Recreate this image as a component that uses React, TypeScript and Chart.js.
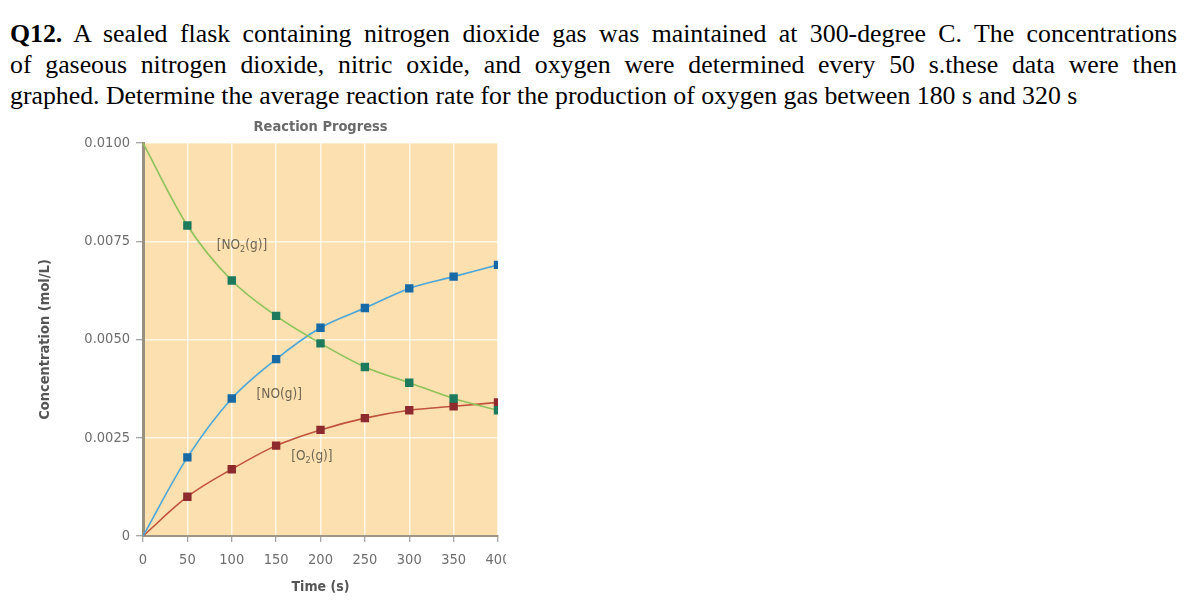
import React, { useEffect, useRef } from "react";
import { Chart, registerables } from "chart.js";

Chart.register(...registerables);

const timeSeconds = [0, 50, 100, 150, 200, 250, 300, 350, 400];
const no2Values = [0.01, 0.0079, 0.0065, 0.0056, 0.0049, 0.0043, 0.0039, 0.0035, 0.0032];
const noValues = [0, 0.002, 0.0035, 0.0045, 0.0053, 0.0058, 0.0063, 0.0066, 0.0069];
const o2Values = [0, 0.001, 0.0017, 0.0023, 0.0027, 0.003, 0.0032, 0.0033, 0.0034];

const yTickValues = [0, 0.0025, 0.005, 0.0075, 0.01];
const yTickLabels = ["0", "0.0025", "0.0050", "0.0075", "0.0100"];
const xTickValues = [0, 50, 100, 150, 200, 250, 300, 350, 400];

// series annotation labels: [before subscript, subscript, after], anchored at data (time, conc)
const seriesLabelParts = [
  ["[NO", "2", "(g)]"],
  ["[NO(g)]", "", ""],
  ["[O", "2", "(g)]"],
];
const seriesLabelTimes = [83, 128, 167];
const seriesLabelConc = [0.0074, 0.0036, 0.00203];

const chartTitle = "Reaction Progress";
const xTitle = "Time (s)";
const yTitle = "Concentration (mol/L)";

const FONT = "'DejaVu Sans Condensed', 'Liberation Sans Narrow', 'Roboto', sans-serif";

const plotBgPlugin = {
  id: "plotBg",
  beforeDraw(chart: any) {
    const { ctx, chartArea } = chart;
    ctx.save();
    ctx.fillStyle = "#FCE0B0";
    ctx.fillRect(chartArea.left, chartArea.top, chartArea.right - chartArea.left, chartArea.bottom - chartArea.top);
    ctx.restore();
  },
};

const topTitlePlugin = {
  id: "topTitle",
  afterDraw(chart: any) {
    const { ctx, chartArea } = chart;
    ctx.save();
    ctx.fillStyle = "#6a6a6a";
    ctx.font = `bold 14.5px ${FONT}`;
    ctx.textAlign = "center";
    ctx.textBaseline = "middle";
    ctx.fillText(chartTitle, (chartArea.left + chartArea.right) / 2, chartArea.top - 16);
    ctx.restore();
  },
};

const seriesLabelPlugin = {
  id: "seriesLabels",
  afterDatasetsDraw(chart: any) {
    const { ctx, scales } = chart;
    ctx.save();
    ctx.fillStyle = "#6f6552";
    ctx.textBaseline = "middle";
    ctx.textAlign = "left";
    seriesLabelParts.forEach((parts, i) => {
      let x = scales.x.getPixelForValue(seriesLabelTimes[i]);
      const y = scales.y.getPixelForValue(seriesLabelConc[i]);
      ctx.font = `13.5px ${FONT}`;
      ctx.fillText(parts[0], x, y);
      x += ctx.measureText(parts[0]).width;
      if (parts[1]) {
        ctx.font = `9px ${FONT}`;
        ctx.fillText(parts[1], x, y + 4);
        x += ctx.measureText(parts[1]).width;
      }
      if (parts[2]) {
        ctx.font = `13.5px ${FONT}`;
        ctx.fillText(parts[2], x, y);
      }
    });
    ctx.restore();
  },
};

function ChartView() {
  const ref = useRef<HTMLCanvasElement | null>(null);
  useEffect(() => {
    if (!ref.current) return;
    const mk = (vals: number[]) => timeSeconds.map((t, i) => ({ x: t, y: vals[i] }));
    const radii = timeSeconds.map((_, i) => (i === 0 ? 0 : 4.8));
    const chart = new Chart(ref.current, {
      type: "line",
      data: {
        datasets: [
          {
            label: "NO2",
            data: mk(no2Values),
            borderColor: "#8fc25a",
            backgroundColor: "#1d7a5c",
            pointBorderColor: "#1d7a5c",
            pointBackgroundColor: "#1d7a5c",
            borderWidth: 1.6,
            pointStyle: "rect",
            pointRadius: radii,
            cubicInterpolationMode: "monotone",
          },
          {
            label: "NO",
            data: mk(noValues),
            borderColor: "#4da6d8",
            backgroundColor: "#176aa6",
            pointBorderColor: "#176aa6",
            pointBackgroundColor: "#176aa6",
            borderWidth: 1.6,
            pointStyle: "rect",
            pointRadius: radii,
            cubicInterpolationMode: "monotone",
          },
          {
            label: "O2",
            data: mk(o2Values),
            borderColor: "#c0533c",
            backgroundColor: "#8e2b2e",
            pointBorderColor: "#8e2b2e",
            pointBackgroundColor: "#8e2b2e",
            borderWidth: 1.6,
            pointStyle: "rect",
            pointRadius: radii,
            cubicInterpolationMode: "monotone",
          },
        ],
      },
      options: {
        responsive: false,
        animation: false,
        layout: { padding: { left: 0, right: 32, top: 33, bottom: 0 } },
        plugins: {
          legend: { display: false },
          tooltip: { enabled: false },
          title: { display: false },
        },
        scales: {
          x: {
            type: "linear",
            min: 0,
            max: 400,
            afterBuildTicks: (scale: any) => {
              scale.ticks = xTickValues.map((v) => ({ value: v }));
            },
            afterFit: (scale: any) => {
              scale.height = 67;
            },
            ticks: {
              color: "#6e6e6e",
              font: { family: FONT, size: 14.5 },
              padding: 10,
              maxRotation: 0,
              autoSkip: false,
              callback: (v: any) => String(v),
            },
            grid: {
              color: "rgba(255,255,255,0.7)",
              lineWidth: 1.5,
              tickColor: "#8a8a8a",
              tickLength: 6,
              tickWidth: 1,
            },
            border: { display: true, color: "#a09686", width: 2 },
            title: {
              display: true,
              text: xTitle,
              color: "#555",
              font: { family: FONT, size: 14, weight: "bold" },
              padding: { top: 0, bottom: 7 },
            },
          },
          y: {
            type: "linear",
            min: 0,
            max: 0.01,
            afterBuildTicks: (scale: any) => {
              scale.ticks = yTickValues.map((v) => ({ value: v }));
            },
            afterFit: (scale: any) => {
              scale.width = 143;
            },
            ticks: {
              color: "#6e6e6e",
              font: { family: FONT, size: 14.5 },
              padding: 6,
              autoSkip: false,
              callback: (v: any) => {
                const i = yTickValues.findIndex((t) => Math.abs(t - v) < 1e-9);
                return i >= 0 ? yTickLabels[i] : "";
              },
            },
            grid: {
              color: "rgba(255,255,255,0.7)",
              lineWidth: 1.5,
              tickColor: "#8a8a8a",
              tickLength: 7,
              tickWidth: 1,
            },
            border: { display: true, color: "#9a9080", width: 3 },
            title: {
              display: true,
              text: yTitle,
              color: "#555",
              font: { family: FONT, size: 14.5, weight: "bold" },
              padding: { top: 37, bottom: 0 },
            },
          },
        },
      },
      plugins: [plotBgPlugin, seriesLabelPlugin, topTitlePlugin],
    } as any);
    return () => chart.destroy();
  }, []);
  return <canvas ref={ref} width={530} height={493} style={{ display: "block" }} />;
}

export default function App() {
  const lineBase: React.CSSProperties = {
    fontFamily: "'Liberation Serif', 'Times New Roman', serif",
    fontSize: 25.8,
    lineHeight: "31px",
    color: "#000",
    whiteSpace: "nowrap",
    width: 1167,
  };
  const justified: React.CSSProperties = { ...lineBase, whiteSpace: "normal", textAlign: "justify", textAlignLast: "justify" as any };
  return (
    <div style={{ position: "fixed", left: 0, top: 0, width: 1200, height: 603, background: "#fff", overflow: "hidden" }}>
      <div style={{ position: "absolute", left: 10, top: 18 }}>
        <div style={justified}>
          <b>Q12.</b> A sealed flask containing nitrogen dioxide gas was maintained at 300-degree C. The concentrations
        </div>
        <div style={justified}>
          of gaseous nitrogen dioxide, nitric oxide, and oxygen were determined every 50 s.these data were then
        </div>
        <div style={lineBase}>
          graphed. Determine the average reaction rate for the production of oxygen gas between 180 s and 320 s
        </div>
      </div>
      <div style={{ position: "absolute", left: 0, top: 110, width: 506, height: 493, overflow: "hidden" }}>
        <ChartView />
      </div>
    </div>
  );
}
